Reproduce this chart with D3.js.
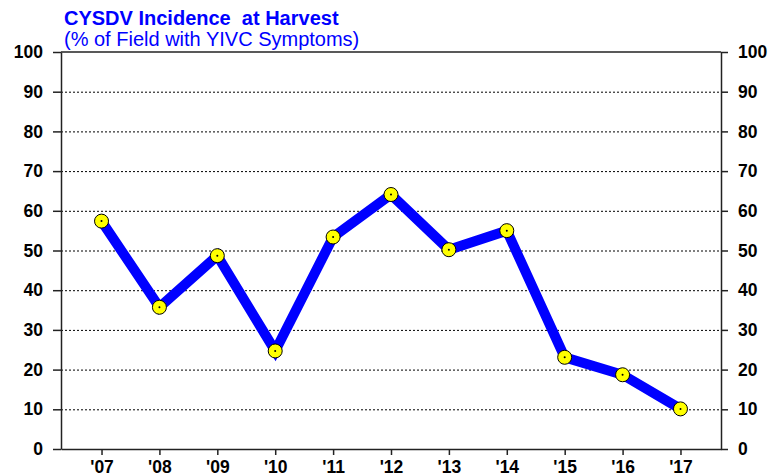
<!DOCTYPE html>
<html lang="en">
<head>
<meta charset="UTF-8">
<title>CYSDV Incidence at Harvest</title>
<script src="https://d3js.org/d3.v7.min.js"></script>
<style>
  * { margin: 0; padding: 0; }
  body { background: #fff; font-family: "Liberation Sans", Arial, sans-serif; }
</style>
</head>
<body>
<svg id="chart" width="783" height="476"></svg>
<script>
// data
const years = ["'07", "'08", "'09", "'10", "'11", "'12", "'13", "'14", "'15", "'16", "'17"];
const incidence = [57.4, 35.7, 48.7, 24.7, 53.4, 64.1, 50.2, 55.0, 23.1, 18.7, 10.1];
const yTicks = [0, 10, 20, 30, 40, 50, 60, 70, 80, 90, 100];

const svg = d3.select('#chart');
const plotL = 61, plotR = 721, plotT = 52, plotB = 449;

const x = d3.scalePoint().domain(years).range([plotL, plotR]).padding(0.7);
const y = d3.scaleLinear().domain([0, 100]).range([plotB, plotT]);

// dotted gridlines
svg.append('g').selectAll('line')
  .data(yTicks.filter(t => t > 0 && t < 100))
  .enter().append('line')
  .attr('x1', plotL).attr('x2', plotR)
  .attr('y1', d => y(d) + 0.5).attr('y2', d => y(d) + 0.5)
  .attr('stroke', '#000').attr('stroke-width', 1)
  .attr('stroke-dasharray', '2,2');

// axes
const axL = svg.append('g').attr('transform', `translate(${plotL},0)`)
  .call(d3.axisLeft(y).tickValues(yTicks).tickSize(8).tickSizeOuter(0).tickPadding(10));
const axR = svg.append('g').attr('transform', `translate(${plotR},0)`)
  .call(d3.axisRight(y).tickValues(yTicks).tickSize(7).tickSizeOuter(0).tickPadding(10));
const axB = svg.append('g').attr('transform', `translate(0,${plotB})`)
  .call(d3.axisBottom(x).tickSize(6).tickSizeOuter(0).tickPadding(7));

[axL, axR, axB].forEach(a => {
  a.attr('font-family', null).attr('font-size', null);
  a.select('.domain').attr('stroke', '#222').attr('stroke-width', 1.5);
  a.selectAll('.tick line').attr('stroke', '#222').attr('stroke-width', 1.5);
  a.selectAll('text')
    .style('font-family', '"Liberation Sans", Arial, sans-serif')
    .style('font-size', '17.5px').style('font-weight', 'bold')
    .attr('fill', '#000');
});
axB.selectAll('text').attr('y', 24).attr('dy', null);

// top border
svg.append('line')
  .attr('x1', plotL).attr('x2', plotR)
  .attr('y1', plotT).attr('y2', plotT)
  .attr('stroke', '#222').attr('stroke-width', 1.5);

// series line
const line = d3.line().x((d, i) => x(years[i])).y(d => y(d));
svg.append('path')
  .datum(incidence)
  .attr('d', line)
  .attr('fill', 'none')
  .attr('stroke', '#0000ff')
  .attr('stroke-width', 10)
  .attr('stroke-linejoin', 'miter');

// markers
const pts = svg.append('g').selectAll('g')
  .data(incidence)
  .enter().append('g')
  .attr('transform', (d, i) => `translate(${x(years[i])},${y(d)})`);
pts.append('circle').attr('r', 7).attr('fill', '#ffff00').attr('stroke', '#000').attr('stroke-width', 1);
pts.append('circle').attr('r', 1).attr('fill', '#000');

// titles
svg.append('text').attr('x', 64).attr('y', 25)
  .attr('font-size', 20).attr('font-weight', 'bold').attr('fill', '#0000ff')
  .attr('xml:space', 'preserve')
  .text('CYSDV Incidence  at Harvest');
svg.append('text').attr('x', 64).attr('y', 46)
  .attr('font-size', 20).attr('fill', '#0000ff')
  .text('(% of Field with YIVC Symptoms)');
</script>
</body>
</html>
